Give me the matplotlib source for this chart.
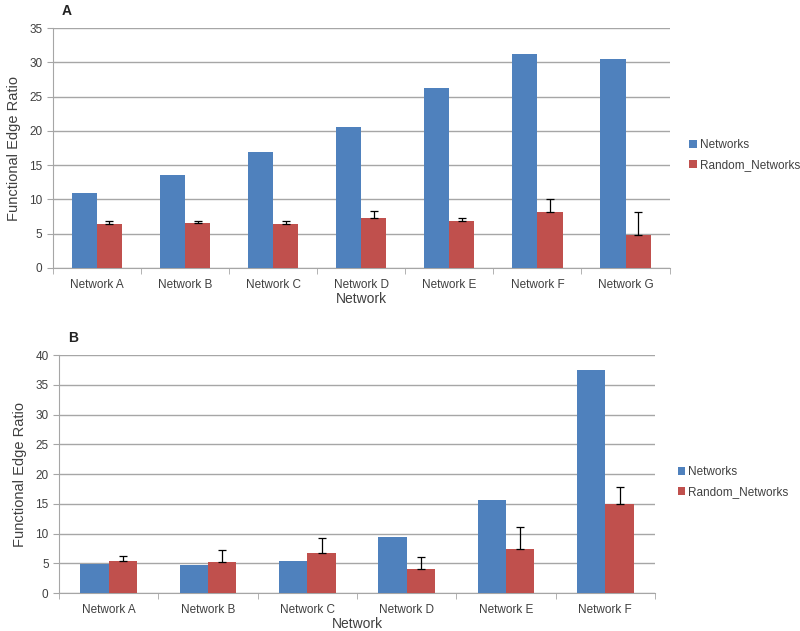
import numpy as np
import matplotlib
matplotlib.use("Agg")
import matplotlib.pyplot as plt

plt.rcParams['font.family'] = ['Liberation Sans', 'DejaVu Sans']

# ── Data ──────────────────────────────────────────────────────────
cats_a = ["Network A", "Network B", "Network C", "Network D", "Network E", "Network F", "Network G"]
net_a = [11.0, 13.5, 16.9, 20.6, 26.3, 31.2, 30.5]
rand_a = [6.4, 6.5, 6.4, 7.35, 6.8, 8.15, 4.85]
rand_a_err = [0.5, 0.3, 0.5, 1.0, 0.5, 1.9, 3.3]

cats_b = ["Network A", "Network B", "Network C", "Network D", "Network E", "Network F"]
net_b = [4.9, 4.7, 5.4, 9.35, 15.6, 37.4]
rand_b = [5.4, 5.25, 6.8, 4.1, 7.45, 15.0]
rand_b_err = [0.75, 2.0, 2.5, 1.9, 3.6, 2.85]

BLUE = "#4F81BD"
RED = "#C0504D"
GRID = "#A6A6A6"
TXT = "#404040"


def draw_panel(ax, cats, net, rand, err, ymax, letter, legend_xy):
    x = np.arange(len(cats))
    w = 0.285
    ax.bar(x - w / 2, net, w, color=BLUE, label="Networks", zorder=3)
    ax.bar(x + w / 2, rand, w, color=RED, label="Random_Networks", zorder=3)
    ax.errorbar(x + w / 2, rand, yerr=[np.zeros(len(err)), err], fmt='none',
                ecolor='black', elinewidth=0.9, capsize=3, capthick=0.9, zorder=4)
    ax.set_xlim(-0.5, len(cats) - 0.5)
    ax.set_ylim(0, ymax)
    ax.set_yticks(np.arange(0, ymax + 1, 5))
    ax.yaxis.grid(True, color=GRID, linewidth=1.0, zorder=0)
    ax.set_xticks(x)
    ax.set_xticklabels(cats)
    ax.set_xticks(np.arange(-0.5, len(cats)), minor=True)
    ax.tick_params(axis='x', which='major', length=0, pad=8, labelsize=8.5, labelcolor=TXT)
    ax.tick_params(axis='x', which='minor', length=4, color=GRID)
    ax.tick_params(axis='y', length=4, color=GRID, labelsize=8.5, labelcolor=TXT)
    for s in ['top', 'right']:
        ax.spines[s].set_visible(False)
    for s in ['left', 'bottom']:
        ax.spines[s].set_color(GRID)
    ax.set_xlabel("Network", fontsize=10, color=TXT, labelpad=0.5)
    ax.set_ylabel("Functional Edge Ratio", fontsize=10.5, color=TXT, labelpad=6)
    ax.legend(loc='center left', bbox_to_anchor=legend_xy, frameon=False,
              fontsize=8.5, handlelength=0.6, handleheight=0.6, handletextpad=0.3,
              labelspacing=0.65, labelcolor=TXT)
    ax.text(0.015, 1.04, letter, transform=ax.transAxes, fontsize=10,
            fontweight='bold', color='#222222', ha='left', va='bottom')


fig = plt.figure(figsize=(8, 6.31), dpi=100)
ax1 = fig.add_axes([0.066, 0.5753, 0.771, 0.3803])
ax2 = fig.add_axes([0.0738, 0.0602, 0.745, 0.3772])

draw_panel(ax1, cats_a, net_a, rand_a, rand_a_err, 35, "A", (1.015, 0.47))
draw_panel(ax2, cats_b, net_b, rand_b, rand_b_err, 40, "B", (1.02, 0.466))

fig.savefig("out.png", dpi=100)
